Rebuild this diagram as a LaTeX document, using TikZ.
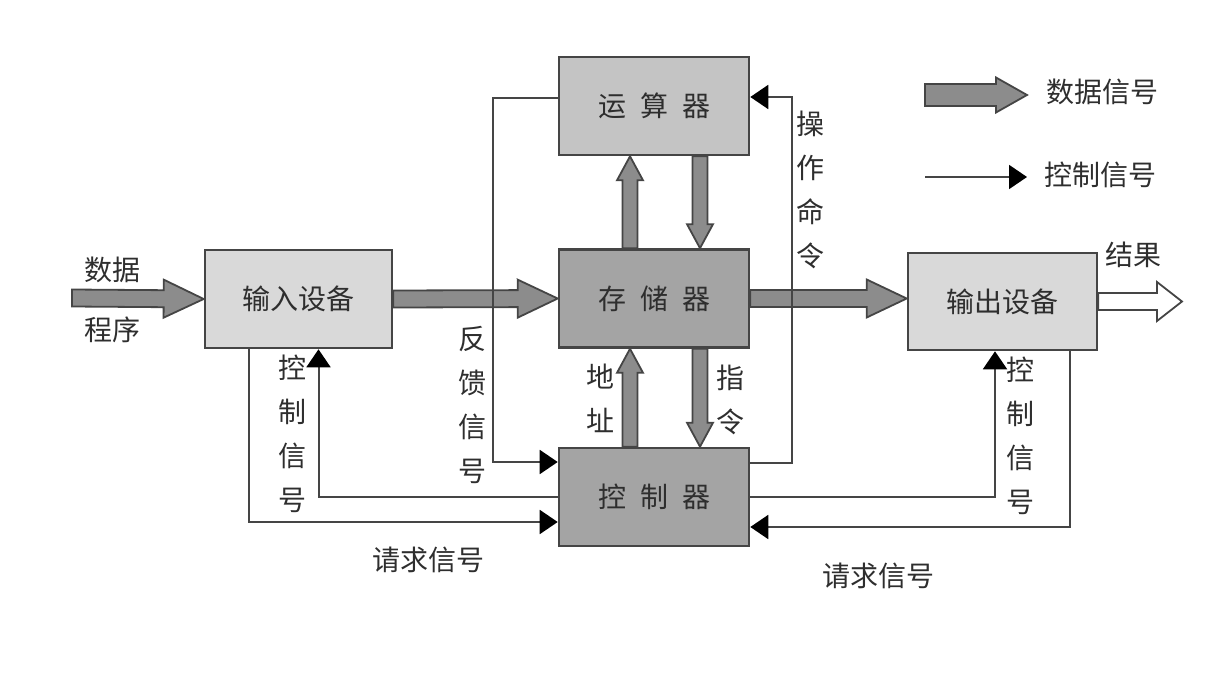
\documentclass[tikz,border=0pt]{standalone}
\usepackage{fontspec}
\setmainfont{Noto Sans CJK SC}
\usetikzlibrary{arrows.meta,calc,positioning}

\definecolor{boxlight}{HTML}{D9D9D9}
\definecolor{boxmid}{HTML}{C4C4C4}
\definecolor{boxdark}{HTML}{A4A4A4}
\definecolor{datafill}{HTML}{8C8C8C}
\definecolor{edge}{HTML}{454545}
\definecolor{ink}{HTML}{2E2E2E}

\tikzset{
  unit/.style={draw=edge, line width=1.3pt, minimum width=95pt, minimum height=49pt, inner sep=0pt},
  fatarrow/.style n args={3}{to path={
      ($(\tikztotarget)!#3!(\tikztostart)$) coordinate (fb)
      ($(\tikztostart)!#1!90:(\tikztotarget)$) -- ($(fb)!#1!90:(\tikztotarget)$)
      -- ($(fb)!#2!90:(\tikztotarget)$) -- (\tikztotarget)
      -- ($(fb)!#2!-90:(\tikztotarget)$) -- ($(fb)!#1!-90:(\tikztotarget)$)
      -- ($(\tikztostart)!#1!-90:(\tikztotarget)$) -- cycle}},
  data/.style={fatarrow={4.25pt}{9.5pt}{20pt}, fill=datafill, draw=edge, line width=0.9pt},
  datav/.style={fatarrow={3.75pt}{6.5pt}{12pt}, fill=datafill, draw=edge, line width=0.9pt},
  ctrl/.style={draw=edge, line width=1pt, -{Triangle[length=9pt,width=12pt,color=black]}},
  vlabel/.style={align=center, inner sep=0pt, font=\fontsize{14pt}{22pt}\selectfont}
}

\begin{document}
\begin{tikzpicture}[x=0.5pt, y=-0.5pt, every node/.style={font=\fontsize{14pt}{17pt}\selectfont, text=ink}]
  \useasboundingbox (0,0) rectangle (1230,684);
  % units
  \node[unit, fill=boxlight, minimum width=93.5pt] (in) at (298.5,299) {输入设备};
  \node[unit, fill=boxmid] (alu) at (654,106) {运\hspace{0.5em}算\hspace{0.5em}器};
  \node[unit, fill=boxdark] (mem) at (654,298.5) {存\hspace{0.5em}储\hspace{0.5em}器};
  \node[unit, fill=boxdark] (ctl) at (654,497) {控\hspace{0.5em}制\hspace{0.5em}器};
  \node[unit, fill=boxlight, minimum width=94.5pt, minimum height=48.5pt] (out) at (1002.5,301.5) {输出设备};
  % data signals
  \coordinate (src) at (72,298);
  \coordinate (outin) at (mem.east -| out.west);
  \coordinate (res) at (1182,301.5);
  \draw[data] (src) to (in.west);
  \draw[data] (in.east) to (mem.west);
  \draw[data] (mem.east) to (outin);
  \draw[fatarrow={4.25pt}{9.75pt}{12.5pt}, fill=white, draw=edge, line width=0.9pt] (out.east) to (res);
  \draw[datav] ([xshift=-12pt]mem.north) to ([xshift=-12pt]alu.south);
  \draw[datav] ([xshift=23pt]alu.south) to ([xshift=23pt]mem.north);
  \draw[datav] ([xshift=-12pt]ctl.north) to ([xshift=-12pt]mem.south);
  \draw[datav] ([xshift=23pt]mem.south) to ([xshift=23pt]ctl.north);
  % control signals
  \draw[ctrl] ([yshift=4pt]alu.west) -- ++(-65,0) |- ([yshift=17.5pt]ctl.west);
  \draw[ctrl] ([yshift=17pt]ctl.east) -- ++(42,0) |- ([yshift=4.5pt]alu.east);
  \draw[ctrl] (ctl.west) -| ([xshift=10pt]in.south);
  \draw[ctrl] ([xshift=-25pt]in.south) |- ([yshift=-12.5pt]ctl.west);
  \draw[ctrl] (ctl.east) -| ([xshift=-3.75pt]out.south);
  \draw[ctrl] ([xshift=33.75pt]out.south) |- ([yshift=-15pt]ctl.east);
  % labels
  \node (srcup) at (112,270) {数据};
  \node (srcdown) at (112,330) {程序};
  \node (resup) at (1133,255) {结果};
  \node[vlabel] (addr) at (600,398) {地\\址};
  \node[vlabel] (instr) at (730,400) {指\\令};
  \node[vlabel] (fbsig) at (472,405) {反\\馈\\信\\号};
  \node[vlabel] (opcmd) at (810,190) {操\\作\\命\\令};
  \node[vlabel] (insig) at (292,434) {控\\制\\信\\号};
  \node[vlabel] (outsig) at (1020,436) {控\\制\\信\\号};
  \node (inreq) at (428,560) {请求信号};
  \node (outreq) at (878,576) {请求信号};
  % legend
  \coordinate (lgda) at (925,95);
  \coordinate (lgdb) at (1027,95);
  \coordinate (lgca) at (925,177);
  \coordinate (lgcb) at (1027,177);
  \draw[fatarrow={5.5pt}{8.75pt}{15.5pt}, fill=datafill, draw=edge, line width=0.9pt] (lgda) to (lgdb);
  \draw[ctrl] (lgca) -- (lgcb);
  \node (lgdt) at (1102,92) {数据信号};
  \node (lgct) at (1100,175) {控制信号};
\end{tikzpicture}
\end{document}
